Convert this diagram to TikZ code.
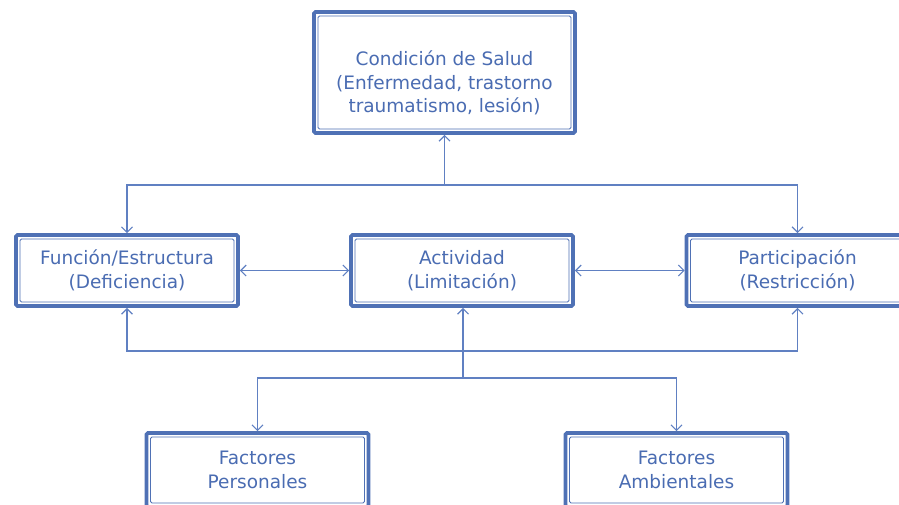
\documentclass[tikz,border=0pt]{standalone}
\usepackage{fontspec}
\setmainfont{DejaVu Sans}
\usepackage{xcolor}
\usepackage{tikz}
\usetikzlibrary{arrows.meta, positioning}

\definecolor{boxblue}{RGB}{79,113,181}
\definecolor{lineblue}{RGB}{96,128,194}
\definecolor{textblue}{RGB}{74,108,178}

\tikzset{
  cifbox/.style={draw=boxblue, line width=3.6pt, rounded corners=1.5pt, fill=white,
    text=textblue, align=center, minimum width=222pt, minimum height=71pt, inner sep=0pt,
    path picture={\draw[boxblue, line width=0.9pt]
      ([shift={(4pt,-4pt)}]path picture bounding box.north west) rectangle
      ([shift={(-4pt,4pt)}]path picture bounding box.south east);}},
  link/.style={draw=lineblue, line width=1.2pt}
}

\begin{document}
\begin{tikzpicture}[x=1pt, y=-1pt, >={Straight Barb[length=5.5pt, width=11pt]}, font=\fontsize{18.5}{23.5}\selectfont]
        \useasboundingbox (0,0) rectangle (899,504);
        \clip (0,0) rectangle (899,504);

        % Nodes
        \node (salud) [cifbox, minimum width=261pt, minimum height=121pt] at (444.5,72.5) {\rule{0pt}{36pt}Condición de Salud\\(Enfermedad, trastorno\\traumatismo, lesión)};
        \node (funcion) [cifbox] at (127,270.5) {Función/Estructura\\(Deficiencia)};
        \node (actividad) [cifbox] at (462,270.5) {Actividad\\(Limitación)};
        \node (participacion) [cifbox] at (797.5,270.5) {Participación\\(Restricción)};
        \node (personales) [cifbox, minimum height=74pt] at (257.5,470) {Factores\\Personales};
        \node (ambientales) [cifbox, minimum height=74pt] at (676.5,470) {Factores\\Ambientales};

        % Junctions
        \coordinate (jtop) at (444.5,185);
        \coordinate (jmid) at (463,351);
        \coordinate (jlow) at (463,378);

        % Arrows
        \draw[link, ->] (jtop) -- (jtop |- salud.south);
        \draw[link, ->] (jtop) -| (funcion);
        \draw[link, ->] (jtop) -| (participacion);
        \draw[link, <->] (funcion) -- (actividad);
        \draw[link, <->] (actividad) -- (participacion);
        \draw[link, ->] (jmid) -| (funcion);
        \draw[link, ->] (jmid) -| (participacion);
        \draw[link, ->] (jlow) -- (jlow |- actividad.south);
        \draw[link, ->] (jlow) -| (personales);
        \draw[link, ->] (jlow) -| (ambientales);

    \end{tikzpicture}
\end{document}
